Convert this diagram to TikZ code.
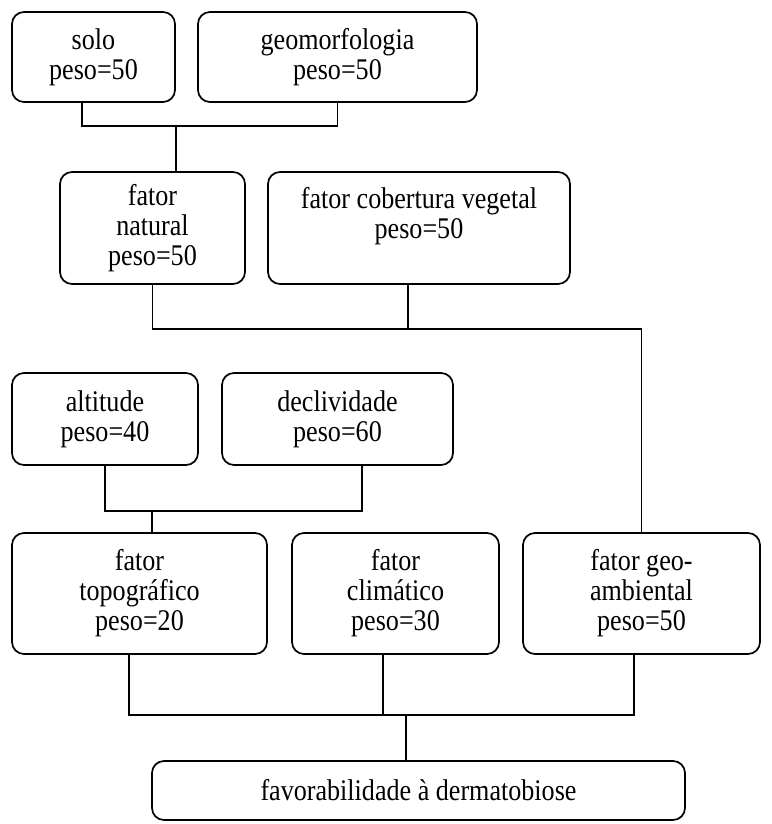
\documentclass[tikz,border=0pt]{standalone}
\usepackage{fontspec}
\setmainfont{Liberation Serif}
\newfontfamily\boxfont{Liberation Serif}[FakeStretch=0.87]
\usepackage{tikz}
\usetikzlibrary{positioning}

\begin{document}
\begin{tikzpicture}[x=0.75pt, y=-0.75pt,
    box/.style={draw, line width=1.3pt, rounded corners=9pt, align=center, inner sep=0pt,
        font=\boxfont\fontsize{22.5}{22.5}\selectfont},
    wire/.style={line width=1.1pt}]
    \useasboundingbox (0,0) rectangle (771,824);

    % Top pair
    \node[box, minimum width=122.25pt, minimum height=67.5pt] (solo) at (93.5,57) {solo\\peso=50};
    \node[box, minimum width=209.25pt, minimum height=67.5pt] (geomorfologia) at (337.5,57) {geomorfologia\\peso=50};
    \coordinate (b1) at (176,126);
    \draw[wire] (82,0 |- solo.south) |- (b1) -| (geomorfologia.south);
    \draw[wire] (b1) -- (b1 |- 0,172);

    % Natural and vegetation factors
    \node[box, minimum width=138.75pt, minimum height=84pt] (natural) at (152.5,228) {fator\\natural\\peso=50};
    \node[box, minimum width=226.5pt, minimum height=84pt] (cobertura) at (419,228) {fator cobertura vegetal\\peso=50\\\mbox{}};
    \coordinate (b2) at (408,329);
    \draw[wire] (natural.south) |- (b2);
    \draw[wire] (408,0 |- cobertura.south) -- (b2);

    % Relief pair
    \node[box, minimum width=139.5pt, minimum height=69pt] (altitude) at (105,419) {altitude\\peso=40};
    \node[box, minimum width=173.25pt, minimum height=69pt] (declividade) at (337.5,419) {declividade\\peso=60};
    \coordinate (b3) at (152,511);
    \draw[wire] (altitude.south) |- (b3) -| (362,0 |- declividade.south);

    % Factor row
    \node[box, minimum width=191.25pt, minimum height=90.75pt] (topografico) at (139.5,593.5) {fator\\topográfico\\peso=20};
    \node[box, minimum width=155.25pt, minimum height=90.75pt] (climatico) at (395.5,593.5) {fator\\climático\\peso=30};
    \node[box, minimum width=177.75pt, minimum height=90.75pt] (geoambiental) at (641.5,593.5) {fator geo-\\ambiental\\peso=50};
    \draw[wire] (b3) -- (b3 |- topografico.north);
    \draw[wire] (b2) -| (geoambiental.north);

    % Result
    \node[box, minimum width=399.75pt, minimum height=44.25pt] (favorabilidade) at (418.5,790.5) {favorabilidade à dermatobiose};
    \coordinate (b4) at (406,715);
    \draw[wire] (129,0 |- topografico.south) |- (b4) -| (634,0 |- geoambiental.south);
    \draw[wire] (383,0 |- climatico.south) -- (383,0 |- b4);
    \draw[wire] (b4) -- (b4 |- favorabilidade.north);
\end{tikzpicture}
\end{document}
